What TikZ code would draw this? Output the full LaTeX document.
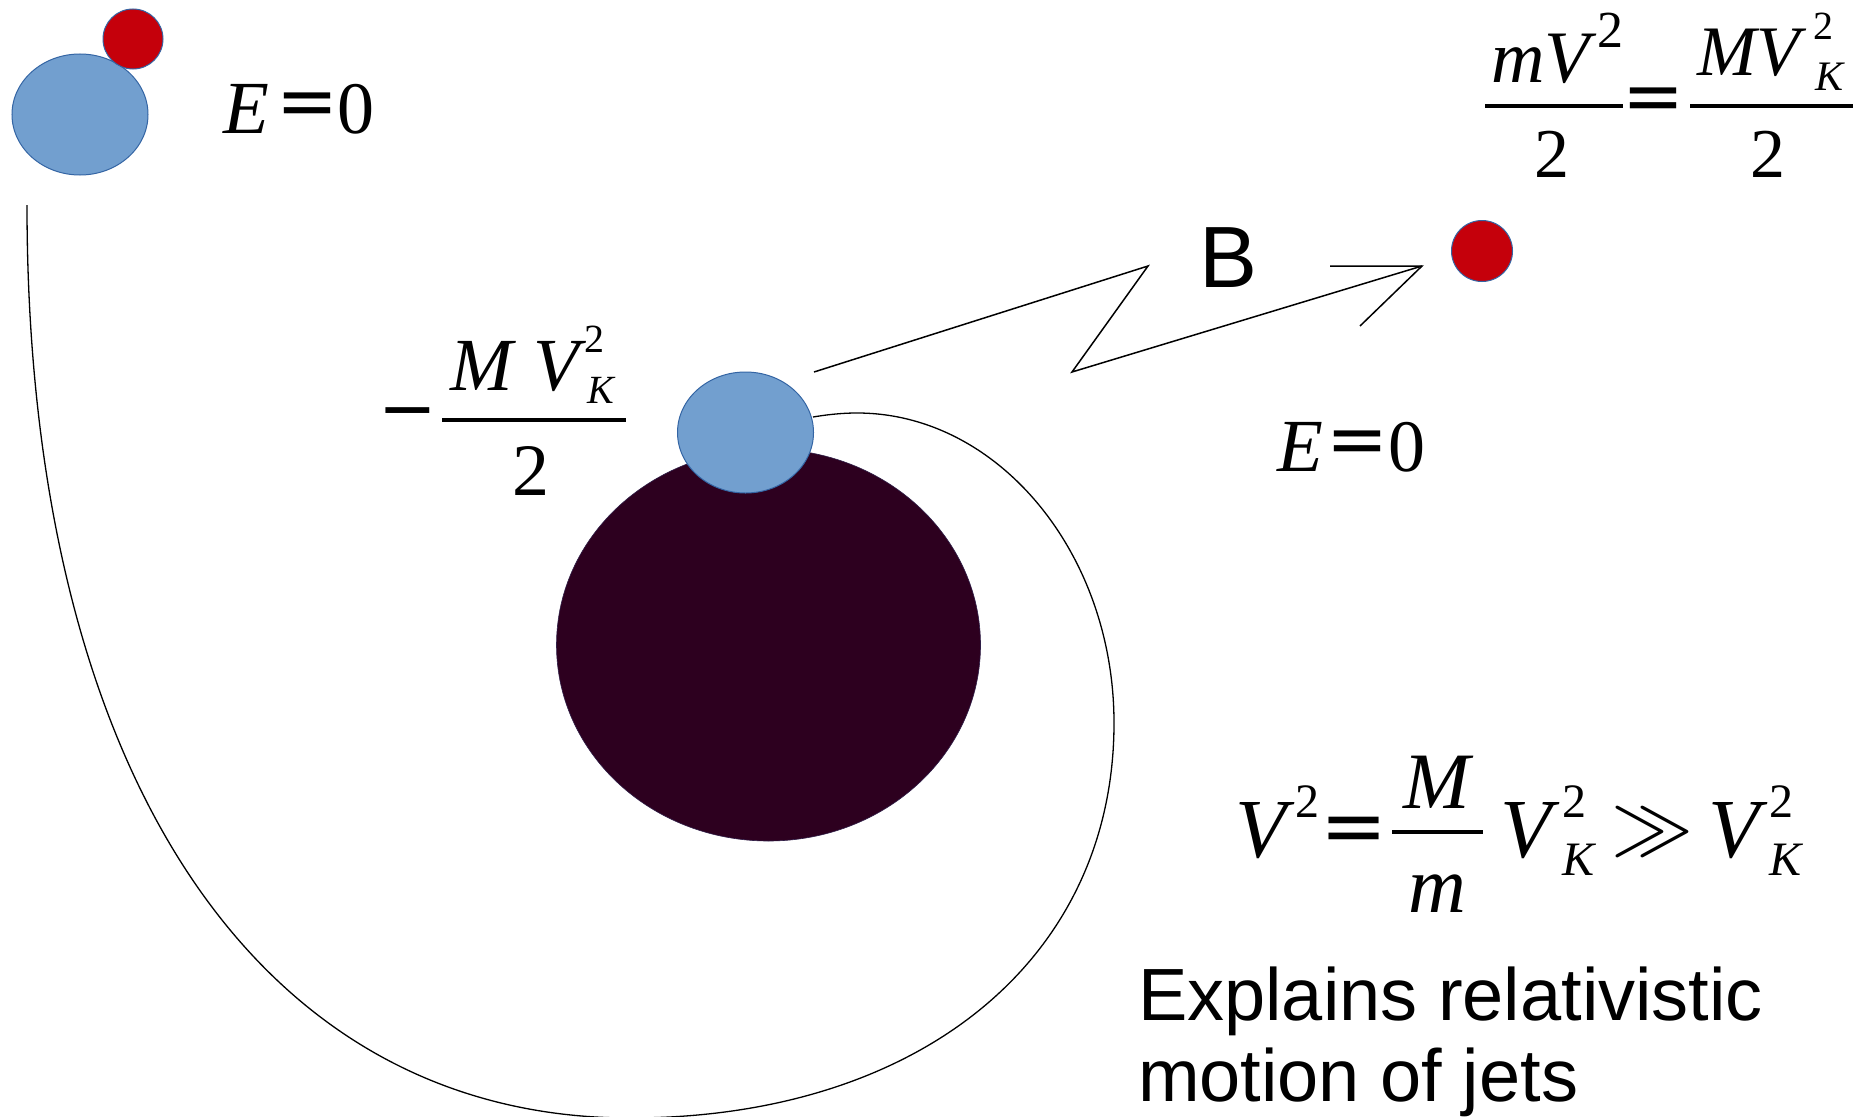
\RequirePackage{fix-cm}
\documentclass[tikz,border=0pt]{standalone}
\usepackage{fontspec}
\setmainfont{Liberation Serif}
\newfontfamily\lsans{Liberation Sans}
\newfontfamily\dvs{DejaVu Sans}
\usetikzlibrary{shapes.geometric}
\newcommand\fs[1]{\fontsize{#1}{#1}\selectfont}
\definecolor{bodyblue}{HTML}{729FCF}
\definecolor{edgeblue}{HTML}{3465A4}
\definecolor{starred}{HTML}{C5000B}
\definecolor{holedark}{HTML}{2D001F}
\tikzset{
  glyph/.style={inner sep=0pt, outer sep=0pt, anchor=base west},
  glyphc/.style={inner sep=0pt, outer sep=0pt, anchor=base},
  eqsign/.style={inner sep=0pt, outer sep=0pt, anchor=center, font=\dvs\fs{74}},
  fracbar/.style={line width=4pt},
  blob/.style={ellipse, draw=edgeblue, line width=1pt, inner sep=0pt, outer sep=0pt},
  orbit/.style={line width=1.3pt},
  zig/.style={line width=1.5pt, line join=miter}
}
\begin{document}
\begin{tikzpicture}[x=1pt, y=-1pt]
\fill[white] (0,0) rectangle (1873,1116);
\useasboundingbox (0,0) rectangle (1873,1116);

% bodies
\node[blob, fill=holedark, draw=holedark!70!edgeblue, line width=0.6pt, minimum width=424pt, minimum height=392pt] (hole) at (768.5,645) {};
\node[blob, fill=bodyblue, minimum width=136pt, minimum height=121pt] (star2) at (745.5,432.5) {};
\node[blob, fill=bodyblue, minimum width=136pt, minimum height=121pt] (star1) at (80,114.5) {};
\node[blob, fill=starred, minimum width=60pt, minimum height=60pt] (red1) at (133,39) {};
\node[blob, fill=starred, minimum width=61pt, minimum height=61pt] (red2) at (1482,251) {};

% orbit
\coordinate (orbA) at (27,205);
\coordinate (orbB) at (630,1118);
\coordinate (orbC) at (1114,723);
\coordinate (orbD) at (857,413);
\coordinate (orbE) at (813,417);
\draw[orbit] (orbA) .. controls (27,770) and (256,1118) .. (orbB)
  .. controls (920,1118) and (1114,959) .. (orbC)
  .. controls (1114,553) and (998,413) .. (orbD)
  .. controls (840,413) and (825,415) .. (orbE);

% zigzag arrow
\coordinate (zz0) at (814,372);
\coordinate (zz1) at (1148,266);
\coordinate (zz2) at (1072,372);
\coordinate (zz3) at (1422,266);
\coordinate (ah1) at (1330,266);
\coordinate (ah2) at (1360,326);
\draw[zig] (zz0) -- (zz1) -- (zz2) -- (zz3);
\draw[zig] (ah1) -- (zz3) -- (ah2);
\node[glyph, font=\lsans\fs{87}] (labB) at (1199,287) {B};

% top-left E=0
\node[glyph, font=\fs{75}\itshape] (e1E) at (223,133) {E};
\node[eqsign] (e1eq) at (307,110) {=};
\node[glyph, font=\fs{74}] (e1z) at (337,133) {0};

% right E=0
\node[glyph, font=\fs{75}\itshape] (e2E) at (1277,471) {E};
\node[eqsign] (e2eq) at (1357,448) {=};
\node[glyph, font=\fs{74}] (e2z) at (1388,471) {0};

% top-right formula
\node[glyph, font=\fs{74}\itshape] (tnum1) at (1491,82) {mV};
\node[glyph, font=\fs{52}] (tsup1) at (1597,48) {2};
\coordinate (tb1l) at (1485,106);
\coordinate (tb1r) at (1623,106);
\draw[fracbar] (tb1l) -- (tb1r);
\node[glyphc, font=\fs{70}] (tden1) at (1552,177) {2};
\node[eqsign] (teq) at (1653,105) {=};
\node[glyph, font=\fs{71}\itshape] (tnum2) at (1697,75) {MV};
\node[glyph, font=\fs{42}\itshape] (tsub2) at (1815,90) {K};
\node[glyph, font=\fs{40}] (tsup2) at (1813,40) {2};
\coordinate (tb2l) at (1690,106);
\coordinate (tb2r) at (1853,106);
\draw[fracbar] (tb2l) -- (tb2r);
\node[glyphc, font=\fs{70}] (tden2) at (1768,177) {2};

% left formula
\node[inner sep=0pt, anchor=center, font=\dvs\fs{70}] (lminus) at (408,420) {−};
\coordinate (lbl) at (442,420);
\coordinate (lbr) at (626,420);
\draw[fracbar] (lbl) -- (lbr);
\node[glyph, font=\fs{75}\itshape] (lM) at (450,390) {M};
\node[glyph, font=\fs{75}\itshape] (lV) at (533,390) {V};
\node[glyph, font=\fs{40}\itshape] (lK) at (587,403) {K};
\node[glyph, font=\fs{40}] (lsup) at (584,352) {2};
\node[glyphc, font=\fs{74}] (lden) at (531,495) {2};

% bottom formula
\node[glyph, font=\fs{84}\itshape] (bV1) at (1235,857) {V};
\node[glyph, font=\fs{48}] (bs1) at (1295,817) {2};
\node[eqsign, font=\dvs\fs{80}] (beq) at (1354,835) {=};
\coordinate (bbl) at (1392,832);
\coordinate (bbr) at (1483,832);
\draw[fracbar] (bbl) -- (bbr);
\node[glyphc, font=\fs{80}\itshape] (bM) at (1437,808) {M};
\node[glyphc, font=\fs{80}\itshape] (bm) at (1437,912) {m};
\node[glyph, font=\fs{84}\itshape] (bV2) at (1500,857) {V};
\node[glyph, font=\fs{48}] (bs2) at (1562,817) {2};
\node[glyph, font=\fs{48}\itshape] (bK2) at (1562,875) {K};
\node[inner sep=0pt, anchor=center, font=\fs{82}] (bgg) at (1652,832) {$\gg$};
\node[glyph, font=\fs{84}\itshape] (bV3) at (1708,857) {V};
\node[glyph, font=\fs{48}] (bs3) at (1769,817) {2};
\node[glyph, font=\fs{48}\itshape] (bK3) at (1769,875) {K};

% caption
\node[glyph, font=\lsans\fs{74}] (cap1) at (1138,1020) {Explains relativistic};
\node[glyph, font=\lsans\fs{74}] (cap2) at (1138,1101) {motion of jets};
\end{tikzpicture}
\end{document}
